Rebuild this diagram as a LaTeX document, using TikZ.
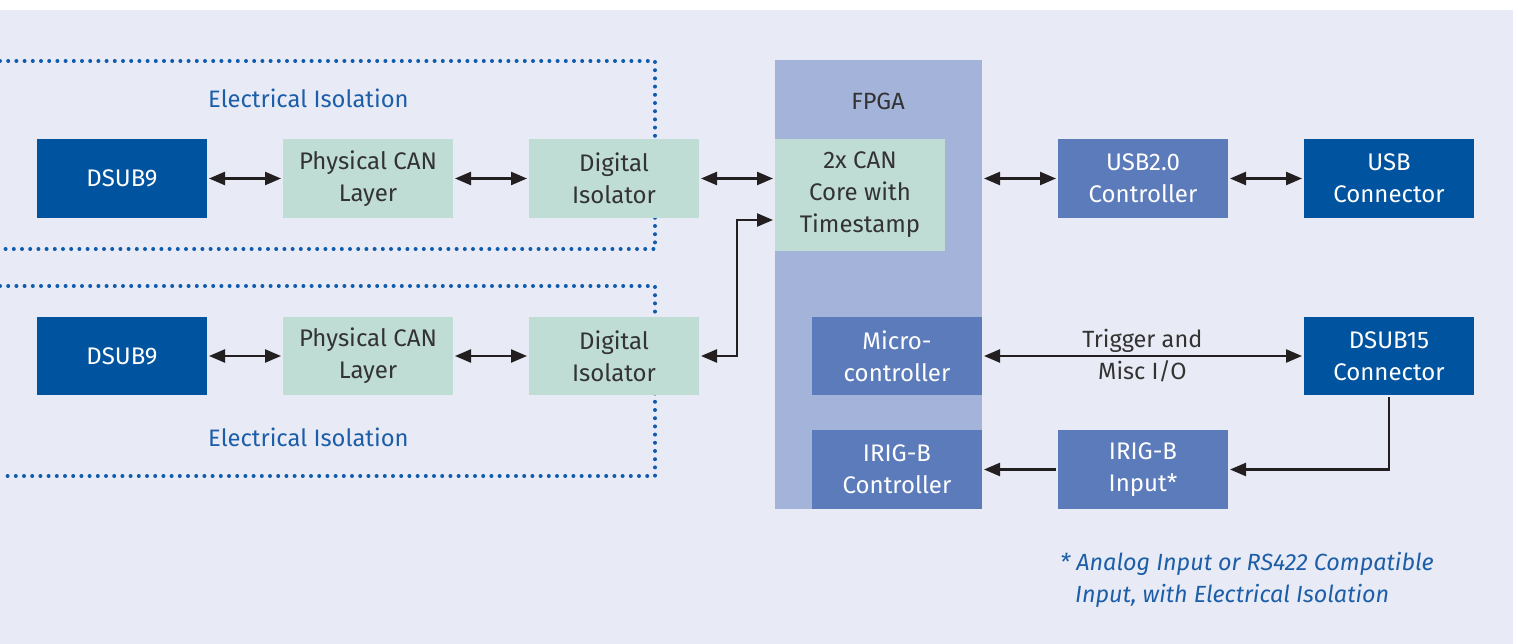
\documentclass[tikz,border=0pt]{standalone}
\usepackage{fontspec}
\setmainfont{Fira Sans}
\usetikzlibrary{arrows.meta,calc}
\definecolor{bgc}{HTML}{E8EBF5}
\definecolor{dblue}{HTML}{00539F}
\definecolor{mblue}{HTML}{5B7BBB}
\definecolor{lgreen}{HTML}{C0DDD5}
\definecolor{fpgac}{HTML}{A3B3D9}
\definecolor{tgray}{HTML}{333333}
\definecolor{isoblue}{HTML}{1D5EA8}
\definecolor{dotc}{HTML}{0F5CAD}
\definecolor{linec}{HTML}{231F20}
\tikzset{
  box/.style={inner sep=0pt, outer sep=0pt, minimum width=170pt, minimum height=79pt, align=center, font=\fontsize{24}{32}\selectfont},
  darkbox/.style={box, fill=dblue, text=white},
  midbox/.style={box, fill=mblue, text=white},
  greenbox/.style={box, fill=lgreen, text=tgray},
  conn/.style={draw=linec, line width=2.4pt, shorten >=2pt, shorten <=2pt},
  biarrow/.style={conn, {Triangle[length=16pt,width=13pt]}-{Triangle[length=16pt,width=13pt]}},
  onearrow/.style={conn, -{Triangle[length=16pt,width=13pt]}},
  isoline/.style={draw=dotc, line width=4pt, line cap=round, dash pattern=on 0pt off 8.2pt},
  isolabel/.style={text=isoblue, anchor=west, inner sep=0pt, font=\fontsize{23.8}{28}\selectfont},
  foot/.style={text=isoblue, anchor=west, inner sep=0pt, font=\fontsize{23.4}{28}\selectfont\itshape}
}
\begin{document}
\begin{tikzpicture}[x=1pt,y=-1pt]
\useasboundingbox (0,0) rectangle (1518,644);
\fill[white] (0,0) rectangle (1518,644);
\fill[bgc] (0,10) rectangle (1513,644);
% isolation regions
\draw[isoline] (0,61) -- (655,61) -- (655,249) -- (0,249);
\draw[isoline] (0,286) -- (655,286) -- (655,476) -- (0,476);
\node[isolabel] (iso1) at (208,98) {Electrical Isolation};
\node[isolabel] (iso2) at (208,437) {Electrical Isolation};
% FPGA
\fill[fpgac] (775,60) rectangle (982,509);
\node[text=tgray, font=\fontsize{23.5}{28}\selectfont] (fpga) at (878,101) {FPGA};
% row 1
\node[darkbox] (d9a) at (122,178.5) {DSUB9};
\node[greenbox] (pa) at (368,178.5) {Physical CAN\\Layer};
\node[greenbox] (ia) at (614,178.5) {Digital\\Isolator};
\node[greenbox, minimum height=112pt] (can) at (860,195) {2x CAN\\Core with\\Timestamp};
\node[midbox] (usb2) at (1143,178.5) {USB2.0\\Controller};
\node[darkbox] (usbc) at (1389,178.5) {USB\\Connector};
% row 2
\node[darkbox, minimum height=78pt] (d9b) at (122,356) {DSUB9};
\node[greenbox, minimum height=78pt] (pb) at (368,356) {Physical CAN\\Layer};
\node[greenbox, minimum height=78pt] (ib) at (614,356) {Digital\\Isolator};
\node[midbox, minimum height=78pt] (mc) at (897,356) {Micro-\\controller};
\node[darkbox, minimum height=78pt] (d15) at (1389,356) {DSUB15\\Connector};
% row 3
\node[midbox] (irc) at (897,469.5) {IRIG-B\\Controller};
\node[midbox] (iri) at (1143,469.5) {IRIG-B\\Input*};
% connectors
\coordinate (fpgar) at (982,178.5);
\draw[biarrow] (d9a) -- (pa);
\draw[biarrow] (pa) -- (ia);
\draw[biarrow] (ia.east) -- (ia.east -| can.west);
\draw[biarrow] (fpgar) -- (usb2.west);
\draw[biarrow] (usb2) -- (usbc);
\draw[biarrow] (d9b) -- (pb);
\draw[biarrow] (pb) -- (ib);
\coordinate (bend1) at (737,356);
\coordinate (bend2) at (737,220);
\draw[biarrow] (ib.east) -- (bend1) -- (bend2) -- (bend2 -| can.west);
\draw[biarrow] (mc.east) -- node[text=tgray, align=center, font=\fontsize{23.5}{32}\selectfont, pos=0.498] (trig) {Trigger and\\Misc I/O} (d15.west);
\draw[onearrow] (d15.south) |- (iri.east);
\draw[onearrow] (iri.west) -- (irc.east);
% footnote
\node[foot] (f1) at (1060,564) {* Analog Input or RS422 Compatible};
\node[foot] (f2) at (1075,596) {Input, with Electrical Isolation};
\end{tikzpicture}
\end{document}
